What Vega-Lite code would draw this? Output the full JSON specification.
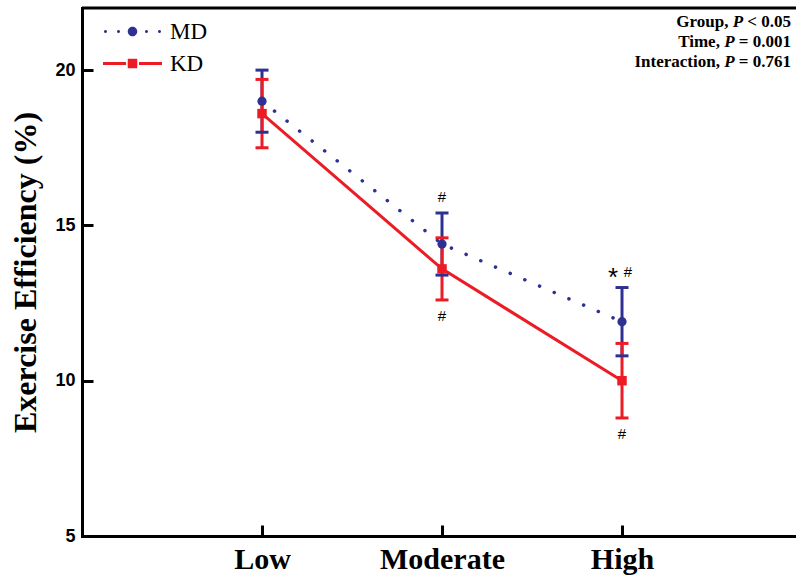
{
  "$schema": "https://vega.github.io/schema/vega-lite/v6.json",
  "width": 714,
  "height": 528,
  "autosize": "none",
  "padding": {"left": 82, "top": 8, "right": 0, "bottom": 39},
  "background": "white",
  "config": {
    "view": {"stroke": null},
    "axisX": {
      "title": null, "labelAngle": 0, "grid": false,
      "domainColor": "black", "domainWidth": 3, "domainCap": "square",
      "tickColor": "black", "tickWidth": 3, "tickSize": -11,
      "labelFont": "Liberation Serif", "labelFontWeight": "bold", "labelFontSize": 30,
      "labelColor": "black", "labelPadding": 19
    },
    "axisY": {
      "grid": false,
      "domainColor": "black", "domainWidth": 3, "domainCap": "square",
      "tickWidth": 3, "tickSize": -11,
      "labelFont": "Liberation Sans", "labelFontWeight": "bold", "labelFontSize": 18,
      "labelColor": "black", "labelPadding": 18,
      "titleFont": "Liberation Serif", "titleFontSize": 32, "titleFontWeight": "bold",
      "titleColor": "black", "titlePadding": 12
    },
    "legend": {
      "orient": "none", "legendX": 39, "legendY": 12, "title": null, "padding": 0,
      "rowPadding": 8, "labelFont": "Liberation Serif", "labelFontSize": 23,
      "labelColor": "black", "labelOffset": 26, "symbolSize": 100,
      "symbolOpacity": 1, "symbolStrokeWidth": 0
    }
  },
  "data": {
    "values": [
      {"level": "Low", "group": "MD", "mean": 19.0, "lo": 18.0, "hi": 20.0, "above": "", "below": "", "star": ""},
      {"level": "Moderate", "group": "MD", "mean": 14.4, "lo": 13.4, "hi": 15.4, "above": "#", "below": "", "star": ""},
      {"level": "High", "group": "MD", "mean": 11.9, "lo": 10.8, "hi": 13.0, "above": "#", "below": "", "star": "*"},
      {"level": "Low", "group": "KD", "mean": 18.6, "lo": 17.5, "hi": 19.7, "above": "", "below": "", "star": ""},
      {"level": "Moderate", "group": "KD", "mean": 13.6, "lo": 12.6, "hi": 14.6, "above": "", "below": "#", "star": ""},
      {"level": "High", "group": "KD", "mean": 10.0, "lo": 8.8, "hi": 11.2, "above": "", "below": "#", "star": ""}
    ]
  },
  "layer": [
    {
      "mark": {"type": "point", "filled": true, "opacity": 0, "size": 100},
      "encoding": {
        "x": {"field": "level", "type": "ordinal", "sort": ["Low", "Moderate", "High"], "scale": {"type": "point", "padding": 0.9833, "align": 0.5085}},
        "y": {
          "field": "mean", "type": "quantitative",
          "scale": {"domain": [5, 22], "nice": false, "zero": false},
          "axis": {
            "title": "Exercise Efficiency (%)", "values": [5, 10, 15, 20],
            "tickColor": {"condition": {"test": "datum.value === 5", "value": "transparent"}, "value": "black"}
          }
        },
        "color": {
          "field": "group", "type": "nominal",
          "scale": {"domain": ["MD", "KD"], "range": ["#2e3192", "#ed1c24"]}
        },
        "shape": {
          "field": "group", "type": "nominal",
          "scale": {"domain": ["MD", "KD"], "range": ["M-0.95,0A0.95,0.95,0,1,0,0.95,0A0.95,0.95,0,1,0,-0.95,0Z M-5.7,0A0.3,0.3,0,1,0,-5.1,0A0.3,0.3,0,1,0,-5.7,0Z M-3.1,0A0.3,0.3,0,1,0,-2.5,0A0.3,0.3,0,1,0,-3.1,0Z M2.5,0A0.3,0.3,0,1,0,3.1,0A0.3,0.3,0,1,0,2.5,0Z M5.1,0A0.3,0.3,0,1,0,5.7,0A0.3,0.3,0,1,0,5.1,0Z", "M-5.9,-0.3H-1.3V0.3H-5.9Z M-0.95,-0.95H0.95V0.95H-0.95Z M1.3,-0.3H5.9V0.3H1.3Z"]}
        }
      }
    },
    {
      "mark": {"type": "rule", "strokeWidth": 3, "opacity": 1},
      "encoding": {
        "x": {"field": "level", "type": "ordinal", "sort": ["Low", "Moderate", "High"]},
        "y": {"field": "lo", "type": "quantitative"},
        "y2": {"field": "hi"},
        "color": {"field": "group", "type": "nominal"}
      }
    },
    {
      "transform": [{"filter": "datum.group === 'MD'"}],
      "mark": {"type": "line", "strokeWidth": 3.5, "strokeDash": [0.1, 15.9], "strokeCap": "round"},
      "encoding": {
        "x": {"field": "level", "type": "ordinal", "sort": ["Low", "Moderate", "High"]},
        "y": {"field": "mean", "type": "quantitative"},
        "color": {"field": "group", "type": "nominal"}
      }
    },
    {
      "transform": [{"filter": "datum.group === 'KD'"}],
      "mark": {"type": "line", "strokeWidth": 3},
      "encoding": {
        "x": {"field": "level", "type": "ordinal", "sort": ["Low", "Moderate", "High"]},
        "y": {"field": "mean", "type": "quantitative"},
        "color": {"field": "group", "type": "nominal"}
      }
    },
    {
      "mark": {"type": "tick", "size": 13, "thickness": 3, "opacity": 1},
      "encoding": {
        "x": {"field": "level", "type": "ordinal", "sort": ["Low", "Moderate", "High"]},
        "y": {"field": "lo", "type": "quantitative"},
        "color": {"field": "group", "type": "nominal"}
      }
    },
    {
      "mark": {"type": "tick", "size": 13, "thickness": 3, "opacity": 1},
      "encoding": {
        "x": {"field": "level", "type": "ordinal", "sort": ["Low", "Moderate", "High"]},
        "y": {"field": "hi", "type": "quantitative"},
        "color": {"field": "group", "type": "nominal"}
      }
    },
    {
      "transform": [{"filter": "datum.group === 'MD'"}],
      "mark": {"type": "point", "shape": "circle", "filled": true, "size": 85, "opacity": 1},
      "encoding": {
        "x": {"field": "level", "type": "ordinal", "sort": ["Low", "Moderate", "High"]},
        "y": {"field": "mean", "type": "quantitative"},
        "color": {"field": "group", "type": "nominal"}
      }
    },
    {
      "transform": [{"filter": "datum.group === 'KD'"}],
      "mark": {"type": "point", "shape": "square", "filled": true, "size": 90, "opacity": 1},
      "encoding": {
        "x": {"field": "level", "type": "ordinal", "sort": ["Low", "Moderate", "High"]},
        "y": {"field": "mean", "type": "quantitative"},
        "color": {"field": "group", "type": "nominal"}
      }
    },
    {
      "transform": [{"filter": "datum.above !== '' && datum.star === ''"}],
      "mark": {"type": "text", "font": "Liberation Sans", "fontSize": 15, "color": "black", "baseline": "middle", "dy": -16},
      "encoding": {
        "x": {"field": "level", "type": "ordinal", "sort": ["Low", "Moderate", "High"]},
        "y": {"field": "hi", "type": "quantitative"},
        "text": {"field": "above"}
      }
    },
    {
      "transform": [{"filter": "datum.above !== '' && datum.star !== ''"}],
      "mark": {"type": "text", "font": "Liberation Sans", "fontSize": 15, "color": "black", "baseline": "middle", "dy": -16, "dx": 6},
      "encoding": {
        "x": {"field": "level", "type": "ordinal", "sort": ["Low", "Moderate", "High"]},
        "y": {"field": "hi", "type": "quantitative"},
        "text": {"field": "above"}
      }
    },
    {
      "transform": [{"filter": "datum.star !== ''"}],
      "mark": {"type": "text", "font": "Liberation Sans", "fontSize": 26, "color": "black", "baseline": "middle", "dy": -10, "dx": -9},
      "encoding": {
        "x": {"field": "level", "type": "ordinal", "sort": ["Low", "Moderate", "High"]},
        "y": {"field": "hi", "type": "quantitative"},
        "text": {"field": "star"}
      }
    },
    {
      "transform": [{"filter": "datum.below !== ''"}],
      "mark": {"type": "text", "font": "Liberation Sans", "fontSize": 15, "color": "black", "baseline": "middle", "dy": 16},
      "encoding": {
        "x": {"field": "level", "type": "ordinal", "sort": ["Low", "Moderate", "High"]},
        "y": {"field": "lo", "type": "quantitative"},
        "text": {"field": "below"}
      }
    },
    {
      "data": {"values": [{}]},
      "mark": {"type": "rule", "strokeWidth": 3, "color": "black"},
      "encoding": {"y": {"datum": 22, "type": "quantitative"}}
    },
    {
      "data": {"values": [{}]},
      "mark": {
        "type": "text", "x": "width", "dx": -5, "dy": 6, "align": "right", "baseline": "top",
        "font": "Liberation Serif", "fontWeight": "bold", "fontSize": 17, "color": "black",
        "text": " < 0.05"
      },
      "encoding": {"y": {"datum": 22, "type": "quantitative"}}
    },
    {
      "data": {"values": [{}]},
      "mark": {
        "type": "text", "x": "width", "dx": -52.9, "dy": 6, "align": "right", "baseline": "top",
        "font": "Liberation Serif", "fontWeight": "bold", "fontStyle": "italic", "fontSize": 17, "color": "black",
        "text": "P"
      },
      "encoding": {"y": {"datum": 22, "type": "quantitative"}}
    },
    {
      "data": {"values": [{}]},
      "mark": {
        "type": "text", "x": "width", "dx": -67.6, "dy": 6, "align": "right", "baseline": "top",
        "font": "Liberation Serif", "fontWeight": "bold", "fontSize": 17, "color": "black",
        "text": "Group,"
      },
      "encoding": {"y": {"datum": 22, "type": "quantitative"}}
    },
    {
      "data": {"values": [{}]},
      "mark": {
        "type": "text", "x": "width", "dx": -5, "dy": 26, "align": "right", "baseline": "top",
        "font": "Liberation Serif", "fontWeight": "bold", "fontSize": 17, "lineHeight": 20, "color": "black",
        "text": [" = 0.001", " = 0.761"]
      },
      "encoding": {"y": {"datum": 22, "type": "quantitative"}}
    },
    {
      "data": {"values": [{}]},
      "mark": {
        "type": "text", "x": "width", "dx": -61.4, "dy": 26, "align": "right", "baseline": "top",
        "font": "Liberation Serif", "fontWeight": "bold", "fontStyle": "italic", "fontSize": 17, "lineHeight": 20, "color": "black",
        "text": ["P", "P"]
      },
      "encoding": {"y": {"datum": 22, "type": "quantitative"}}
    },
    {
      "data": {"values": [{}]},
      "mark": {
        "type": "text", "x": "width", "dx": -76.1, "dy": 26, "align": "right", "baseline": "top",
        "font": "Liberation Serif", "fontWeight": "bold", "fontSize": 17, "lineHeight": 20, "color": "black",
        "text": ["Time,", "Interaction,"]
      },
      "encoding": {"y": {"datum": 22, "type": "quantitative"}}
    }
  ]
}
